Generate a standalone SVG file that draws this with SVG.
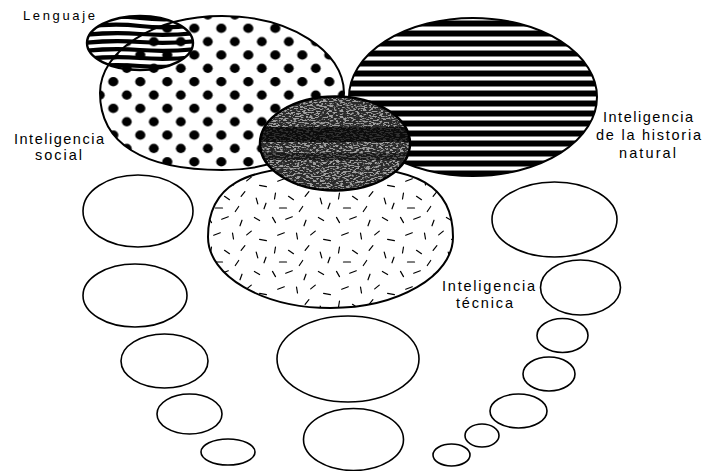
<svg xmlns="http://www.w3.org/2000/svg" width="706" height="471" viewBox="0 0 706 471">
<style>
  .lbl { font-family: "Liberation Sans", "Open Sans", sans-serif; font-size: 14.5px; fill: #000; }
  .outline { fill: none; stroke: #000; stroke-width: 2.4; }
  .small { fill: #fff; stroke: #000; stroke-width: 1.6; }
  .wave { fill: none; stroke: #000; stroke-width: 4.2; }
</style>
<defs>
  <pattern id="dots" patternUnits="userSpaceOnUse" x="106.55" y="75.03" width="27" height="26.7">
    <ellipse cx="6.75" cy="6.67" rx="5.1" ry="4.7" fill="#000"/>
    <ellipse cx="20.25" cy="20.02" rx="4.9" ry="4.7" fill="#000"/>
  </pattern>
  <pattern id="hstripes" patternUnits="userSpaceOnUse" x="0" y="20.5" width="20" height="10">
    <rect x="0" y="0" width="20" height="6" fill="#000"/>
  </pattern>
  <pattern id="dashes" patternUnits="userSpaceOnUse" x="205" y="160" width="64" height="54">
    <g stroke="#000" stroke-width="1.2" stroke-linecap="round" fill="none">
      <path d="M3.5,3.4 L6.5,8.6"/>
      <path d="M16.7,5.2 L23.3,2.8"/>
      <path d="M37,6.2 L35,11.8"/>
      <path d="M49.4,3.5 L54.6,6.5"/>
      <path d="M8.7,21.2 L15.3,18.8"/>
      <path d="M27.5,19 L28.5,25"/>
      <path d="M46.3,17.1 L41.7,20.9"/>
      <path d="M54.6,25.4 L61.4,26.6"/>
      <path d="M6.5,33 L5.5,39"/>
      <path d="M19.5,36.3 L24.5,39.7"/>
      <path d="M36.1,36.3 L39.9,31.7"/>
      <path d="M51.2,38.1 L52.8,43.9"/>
      <path d="M10.5,48 L17.5,48"/>
      <path d="M33.7,46.5 L30.3,51.5"/>
      <path d="M59,48.8 L61,43.2"/>
    </g>
  </pattern>
  <filter id="speck" x="0" y="0" width="1" height="1">
    <feTurbulence type="fractalNoise" baseFrequency="0.3 0.8" numOctaves="2" seed="7"/>
    <feColorMatrix type="matrix" values="0 0 0 0 1  0 0 0 0 1  0 0 0 0 1  9 0 0 0 -4.4"/>
  </filter>
  <clipPath id="clipLeng"><ellipse cx="140" cy="43" rx="53" ry="27"/></clipPath>
  <clipPath id="clipDark"><ellipse cx="335" cy="143.5" rx="75" ry="47"/></clipPath>
</defs>

<g id="connectors"/>

<g id="node-social">
  <path d="M100,93 C100,50.5 154.7,16 222,16 C289.3,16 344,50.5 344,93 C344,135.5 289.3,170 222,170 C142.7,170 100,143 100,93 Z" fill="url(#dots)" stroke="#000" stroke-width="2"/>
  <text class="lbl" x="14" y="144" textLength="90" lengthAdjust="spacing">Inteligencia</text>
  <text class="lbl" x="35" y="160" textLength="47" lengthAdjust="spacing">social</text>
</g>

<g id="node-lenguaje">
  <g clip-path="url(#clipLeng)">
    <path class="wave" d="M84,19 Q112,15 140,18 T196,17"/>
    <path class="wave" d="M84,27 Q112,23 140,26 T196,25"/>
    <path class="wave" d="M84,35 Q112,32 140,34 T196,33"/>
    <path class="wave" d="M84,43 Q112,40 140,42 T196,41"/>
    <path class="wave" d="M84,51 Q112,48 140,50 T196,49"/>
    <path class="wave" d="M84,59 Q112,56 140,58 T196,57"/>
    <path class="wave" d="M84,67 Q112,64 140,66 T196,65"/>
  </g>
  <ellipse cx="140" cy="43" rx="53" ry="27" class="outline"/>
  <text class="lbl" x="23" y="20" textLength="72" lengthAdjust="spacing" style="font-size:13px">Lenguaje</text>
</g>

<g id="node-natural">
  <ellipse cx="473" cy="97" rx="124" ry="79" fill="url(#hstripes)" stroke="#000" stroke-width="2"/>
  <text class="lbl" x="603" y="122" textLength="90" lengthAdjust="spacing">Inteligencia</text>
  <text class="lbl" x="596" y="140" textLength="105" lengthAdjust="spacing">de la historia</text>
  <text class="lbl" x="619" y="158" textLength="57" lengthAdjust="spacing">natural</text>
</g>

<g id="node-tecnica">
  <path d="M208,237 C208,185.9 242.3,166 330.5,166 C418.7,166 453,185.9 453,237 C453,276.2 398.1,308 330.5,308 C262.9,308 208,276.2 208,237 Z" fill="#fff" stroke="#000" stroke-width="2"/>
  <path d="M208,237 C208,185.9 242.3,166 330.5,166 C418.7,166 453,185.9 453,237 C453,276.2 398.1,308 330.5,308 C262.9,308 208,276.2 208,237 Z" fill="url(#dashes)" stroke="none"/>
  <text class="lbl" x="442" y="291" textLength="93" lengthAdjust="spacing">Inteligencia</text>
  <text class="lbl" x="456" y="308" textLength="57" lengthAdjust="spacing">técnica</text>
</g>

<g id="node-central">
  <g clip-path="url(#clipDark)">
    <rect x="258" y="94" width="156" height="100" fill="#2a2a2a"/>
    <rect x="258" y="94" width="156" height="100" fill="#000" filter="url(#speck)" opacity="0.55"/>
    <rect x="258" y="127" width="156" height="15" fill="#000" opacity="0.7"/>
    <rect x="258" y="153" width="156" height="7" fill="#000" opacity="0.45"/>
  </g>
  <ellipse cx="335" cy="143.5" rx="75" ry="47" fill="none" stroke="#000" stroke-width="2.5"/>
</g>

<g id="node-l1"><ellipse class="small" cx="138" cy="211" rx="55" ry="36"/></g>
<g id="node-l2"><ellipse class="small" cx="135" cy="295.5" rx="52" ry="31.5"/></g>
<g id="node-l3"><ellipse class="small" cx="164.5" cy="361" rx="43.5" ry="27"/></g>
<g id="node-l4"><ellipse class="small" cx="189.5" cy="414" rx="32.5" ry="20"/></g>
<g id="node-l5"><ellipse class="small" cx="228" cy="452" rx="27" ry="13"/></g>

<g id="node-m1"><ellipse class="small" cx="348" cy="359" rx="71" ry="43"/></g>
<g id="node-m2"><ellipse class="small" cx="353.5" cy="439.5" rx="50" ry="31"/></g>

<g id="node-r1"><ellipse class="small" cx="554.5" cy="219.5" rx="62.5" ry="37.5"/></g>
<g id="node-r2"><ellipse class="small" cx="580.5" cy="287.5" rx="40" ry="27.5"/></g>
<g id="node-r3"><ellipse class="small" cx="562.5" cy="335.5" rx="25.5" ry="17"/></g>
<g id="node-r4"><ellipse class="small" cx="549" cy="374" rx="26" ry="17"/></g>
<g id="node-r5"><ellipse class="small" cx="518.5" cy="411" rx="28.5" ry="17"/></g>
<g id="node-r6"><ellipse class="small" cx="482" cy="435.5" rx="17" ry="11.5"/></g>
<g id="node-r7"><ellipse class="small" cx="451.5" cy="455" rx="18.5" ry="11"/></g>
</svg>
